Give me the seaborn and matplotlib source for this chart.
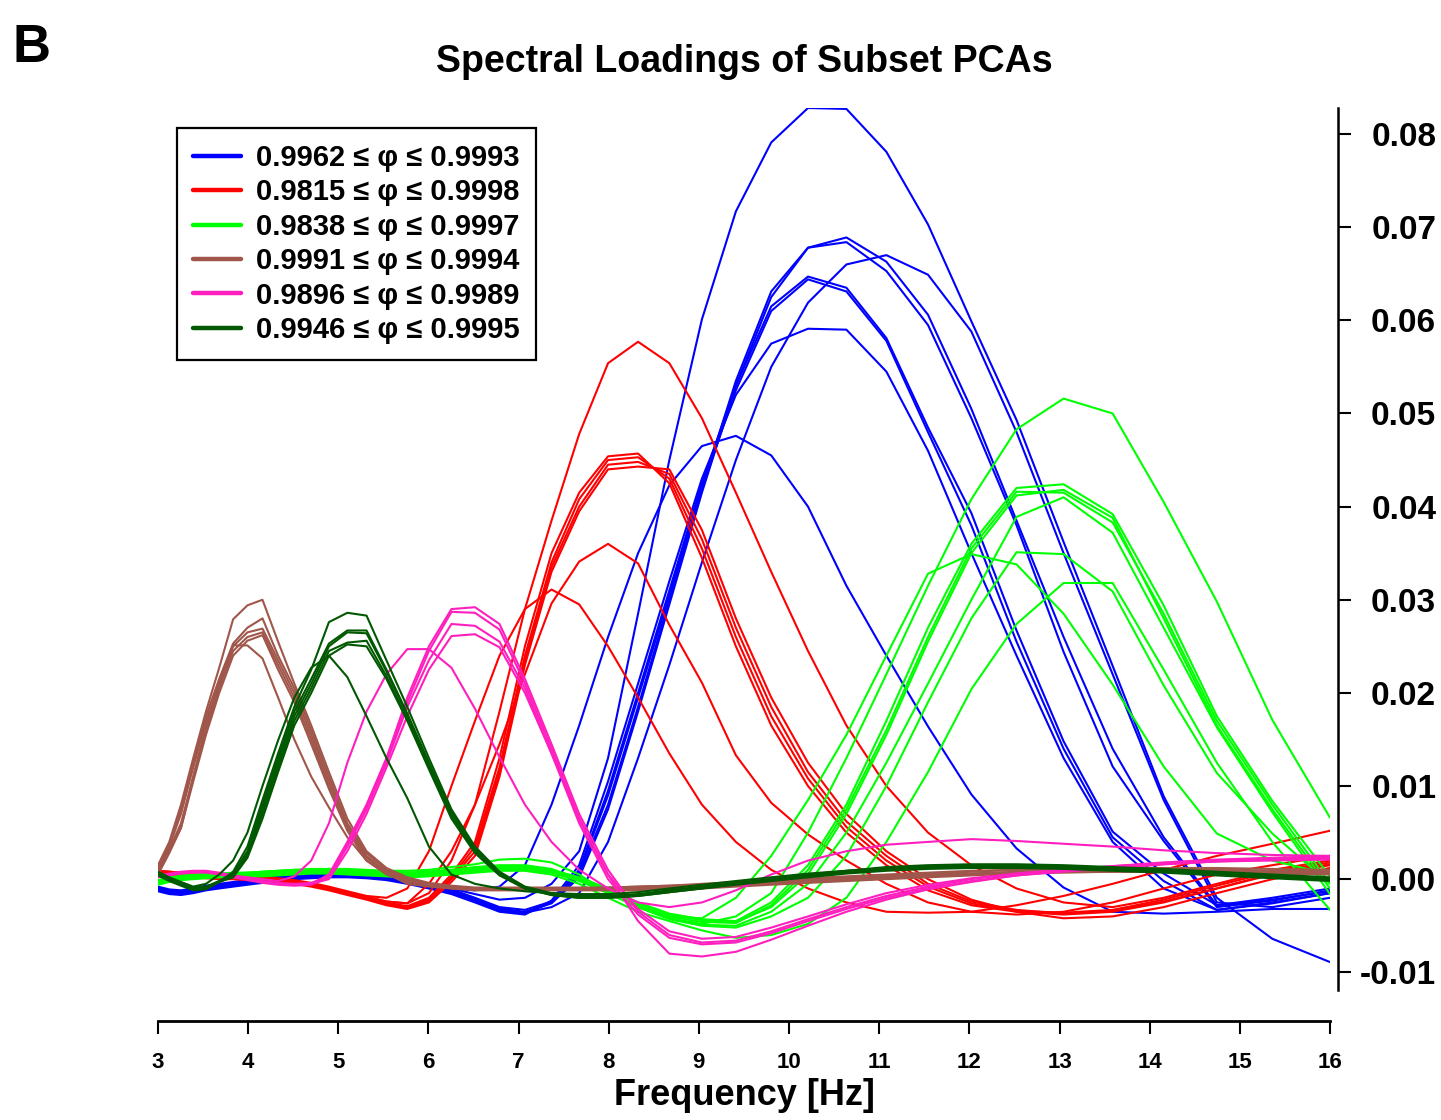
import matplotlib
matplotlib.use("Agg")
import matplotlib.pyplot as plt
from matplotlib.lines import Line2D
import numpy as np
import pandas as pd
import seaborn as sns

# Log-spaced frequency grid (Hz)
freq = [3.000, 3.125, 3.255, 3.391, 3.532, 3.679, 3.833, 3.992, 4.159, 4.332,
        4.512, 4.700, 4.896, 5.100, 5.313, 5.534, 5.765, 6.005, 6.255, 6.516,
        6.788, 7.070, 7.365, 7.672, 7.992, 8.325, 8.672, 9.033, 9.410, 9.802,
        10.210, 10.636, 11.079, 11.541, 12.022, 12.523, 13.045, 13.589, 14.155,
        14.745, 15.360, 16.000]

# Loadings in units of 1e-3, one list per subset PCA
blue_lines = [
    [-0.9, -1.2, -1.3, -1.1, -0.8, -0.6, -0.4, -0.2, 0.0, 0.2, 0.4, 0.5, 0.6, 0.6, 0.5, 0.3, -0.1, -0.5, -1.0, -1.6, -2.2, -2.0,
     -0.5, 3.0, 13.0, 28.5, 45.0, 60.1, 71.7, 79.1, 82.8, 82.7, 78.1, 70.3, 59.9, 49.3, 36.2, 22.9, 8.9, -2.0, -6.4, -8.9],
    [-1.1, -1.4, -1.5, -1.3, -1.0, -0.8, -0.6, -0.4, -0.2, 0.0, 0.2, 0.3, 0.4, 0.4, 0.3, 0.1, -0.3, -0.8, -1.4, -2.3, -3.3, -3.6,
     -2.5, 0.5, 8.0, 18.5, 30.0, 42.0, 53.5, 63.1, 67.8, 68.9, 66.3, 60.6, 50.5, 38.5, 26.0, 14.0, 4.5, -2.8, -2.0, -1.0],
    [-1.0, -1.3, -1.4, -1.2, -0.9, -0.7, -0.5, -0.3, -0.1, 0.1, 0.3, 0.4, 0.5, 0.5, 0.4, 0.2, -0.2, -0.7, -1.3, -2.2, -3.2, -3.5,
     -2.6, 0.2, 7.5, 18.0, 29.5, 41.5, 53.0, 62.5, 67.8, 68.4, 65.3, 59.5, 49.5, 38.0, 24.4, 12.1, 4.1, -3.0, -2.3, -1.2],
    [-0.8, -1.1, -1.2, -1.0, -0.7, -0.5, -0.3, -0.1, 0.1, 0.3, 0.5, 0.6, 0.7, 0.7, 0.6, 0.4, 0.0, -0.5, -1.1, -2.0, -3.0, -3.3,
     -2.4, 1.0, 9.5, 20.0, 31.0, 42.5, 53.0, 61.5, 64.7, 63.5, 58.1, 48.5, 39.3, 26.7, 14.8, 5.1, 0.6, -2.8, -2.2, -1.3],
    [-1.2, -1.5, -1.6, -1.4, -1.1, -0.9, -0.7, -0.5, -0.3, -0.1, 0.1, 0.2, 0.3, 0.3, 0.2, 0.0, -0.4, -0.9, -1.5, -2.4, -3.4, -3.7,
     -2.5, 0.8, 9.0, 19.5, 30.5, 42.0, 52.5, 61.0, 64.4, 63.1, 57.8, 48.0, 38.0, 25.5, 14.0, 4.5, -0.2, -3.3, -2.5, -1.5],
    [-0.9, -1.2, -1.3, -1.1, -0.8, -0.6, -0.4, -0.2, 0.0, 0.2, 0.4, 0.5, 0.6, 0.6, 0.5, 0.3, -0.1, -0.6, -1.2, -2.1, -3.1, -3.6,
     -3.0, -1.5, 4.0, 13.0, 23.0, 34.0, 45.0, 55.0, 61.9, 66.0, 67.0, 64.9, 58.8, 48.0, 35.0, 22.0, 8.5, -2.5, -3.0, -2.0],
    [-1.3, -1.6, -1.7, -1.5, -1.2, -1.0, -0.8, -0.6, -0.4, -0.2, 0.0, 0.1, 0.2, 0.2, 0.1, -0.1, -0.5, -1.0, -1.6, -2.5, -3.5, -3.8,
     -2.3, 1.5, 10.5, 21.0, 32.0, 43.0, 52.0, 57.5, 59.1, 59.0, 54.5, 46.0, 35.0, 24.0, 13.0, 4.0, -1.0, -3.3, -2.6, -1.5],
    [-1.0, -1.3, -1.4, -1.2, -0.9, -0.7, -0.5, -0.3, -0.1, 0.1, 0.3, 0.4, 0.5, 0.5, 0.4, 0.2, -0.2, -0.6, -1.0, -1.2, -0.8, 1.5,
     8.0, 16.5, 26.0, 35.0, 42.3, 46.5, 47.6, 45.5, 40.0, 31.5, 24.0, 16.4, 9.1, 3.3, -0.9, -3.5, -3.7, -3.5, -3.2, -3.2],
]

red_lines = [
    [0.8, 0.7, 0.6, 0.5, 0.4, 0.3, 0.3, 0.2, 0.1, 0.0, -0.2, -0.5, -0.9, -1.4, -1.9, -2.4, -2.6,
     -1.5, 2.0, 8.0, 18.0, 29.0, 38.5, 47.8, 55.4, 57.7, 55.4, 49.5, 41.5, 33.0, 24.5, 16.5, 10.0, 5.0, 1.5, -1.0, -2.5, -3.0, -2.0, -0.5, 1.0, 2.0],
    [0.9, 0.8, 0.7, 0.6, 0.5, 0.4, 0.3, 0.2, 0.1, -0.1, -0.3, -0.6, -1.0, -1.5, -2.0, -2.5, -2.9,
     -2.0, 0.5, 4.0, 13.0, 25.0, 35.0, 41.5, 45.4, 45.7, 42.5, 34.5, 25.0, 16.5, 10.0, 5.0, 1.5, -1.2, -2.8, -3.5, -3.8, -3.5, -2.5, -1.0, 0.5, 1.5],
    [0.7, 0.6, 0.5, 0.4, 0.3, 0.2, 0.2, 0.1, 0.0, -0.1, -0.3, -0.6, -1.0, -1.5, -2.0, -2.6, -3.0,
     -2.2, 0.2, 3.5, 12.0, 24.0, 34.0, 40.8, 45.0, 45.3, 43.0, 35.5, 26.0, 17.5, 10.8, 5.6, 2.0, -0.8, -2.6, -3.4, -3.6, -3.3, -2.2, -0.7, 0.8, 1.8],
    [0.6, 0.5, 0.4, 0.3, 0.2, 0.1, 0.1, 0.0, -0.1, -0.2, -0.4, -0.7, -1.1, -1.6, -2.1, -2.7, -3.1,
     -2.4, 0.0, 3.0, 11.5, 23.5, 33.5, 40.0, 44.5, 44.8, 43.5, 36.5, 27.0, 18.5, 11.5, 6.2, 2.5, -0.5, -2.4, -3.3, -3.7, -3.4, -2.4, -1.0, 0.6, 1.6],
    [0.5, 0.4, 0.3, 0.2, 0.1, 0.0, 0.0, -0.1, -0.2, -0.3, -0.5, -0.8, -1.2, -1.7, -2.2, -2.8, -3.2,
     -2.5, -0.3, 2.5, 11.0, 23.0, 33.0, 39.5, 44.0, 44.3, 44.0, 37.5, 28.0, 19.5, 12.5, 7.0, 3.0, 0.0, -2.2, -3.5, -4.2, -4.0, -3.0, -1.5, 0.0, 1.2],
    [0.8, 0.7, 0.6, 0.5, 0.4, 0.3, 0.3, 0.2, 0.1, 0.0, -0.2, -0.5, -0.9, -1.4, -1.9, -2.4, -2.6,
     -0.5, 3.0, 8.0, 14.5, 22.0, 29.6, 34.1, 36.0, 33.9, 27.3, 21.1, 13.3, 8.2, 4.8, 2.0, -0.5, -2.5, -3.5, -3.8, -3.5, -2.5, -1.0, 0.5, 1.5, 2.5],
    [0.9, 0.8, 0.7, 0.6, 0.5, 0.4, 0.4, 0.3, 0.2, 0.1, -0.1, -0.4, -0.8, -1.3, -1.8, -2.0, -1.0,
     3.0, 10.0, 17.0, 24.0, 29.0, 31.1, 29.5, 25.0, 19.5, 13.5, 8.0, 4.0, 1.0, -1.0, -2.5, -3.5, -3.6, -3.5, -2.8, -1.8, -0.5, 1.0, 2.5, 3.8, 5.2],
]

green_lines = [
    [-0.3, 0.0, 0.2, 0.3, 0.4, 0.5, 0.5, 0.6, 0.7, 0.8, 0.9, 1.0, 1.1, 1.1, 1.0, 0.9, 0.9, 1.0, 1.3, 1.6, 2.1, 2.2,
     1.8, 0.5, -1.5, -3.0, -4.2, -4.8, -4.0, -1.5, 5.0, 13.0, 22.0, 31.5, 40.8, 48.3, 51.6, 50.0, 40.5, 29.8, 17.1, 6.6],
    [-0.2, 0.1, 0.3, 0.4, 0.5, 0.5, 0.6, 0.6, 0.7, 0.8, 0.9, 0.9, 1.0, 0.9, 0.8, 0.7, 0.6, 0.7, 0.9, 1.1, 1.3, 1.3,
     1.0, 0.2, -1.0, -2.5, -3.7, -4.3, -4.5, -2.5, 1.5, 8.0, 17.0, 27.0, 36.0, 42.0, 42.4, 39.2, 29.4, 17.5, 8.4, 0.3],
    [-0.4, -0.1, 0.1, 0.2, 0.3, 0.4, 0.4, 0.5, 0.5, 0.6, 0.7, 0.8, 0.8, 0.7, 0.6, 0.5, 0.4, 0.5, 0.7, 0.9, 1.1, 1.1,
     0.8, 0.0, -1.3, -2.8, -4.0, -4.6, -4.7, -2.8, 1.0, 7.5, 16.0, 26.0, 35.5, 41.6, 41.5, 38.3, 28.5, 17.0, 8.0, -0.5],
    [-0.1, 0.2, 0.4, 0.5, 0.6, 0.6, 0.7, 0.7, 0.8, 0.9, 1.0, 1.0, 1.1, 1.0, 0.9, 0.8, 0.7, 0.8, 1.0, 1.2, 1.4, 1.4,
     1.0, 0.1, -1.2, -2.6, -3.8, -4.4, -4.6, -3.0, 0.5, 7.0, 15.5, 25.5, 35.0, 41.2, 41.8, 38.8, 28.0, 16.5, 7.5, -1.0],
    [-0.3, 0.0, 0.2, 0.3, 0.4, 0.4, 0.5, 0.5, 0.6, 0.7, 0.8, 0.8, 0.9, 0.8, 0.7, 0.6, 0.5, 0.6, 0.8, 1.0, 1.2, 1.2,
     0.9, 0.0, -1.4, -3.0, -4.2, -4.9, -5.0, -3.5, -0.5, 5.0, 12.5, 21.0, 30.0, 38.9, 41.0, 37.2, 27.0, 16.3, 7.2, -1.6],
    [-0.5, -0.2, 0.0, 0.1, 0.2, 0.3, 0.3, 0.4, 0.4, 0.5, 0.6, 0.7, 0.7, 0.6, 0.5, 0.4, 0.3, 0.4, 0.6, 0.8, 1.0, 1.0,
     0.7, -0.2, -1.5, -3.0, -4.3, -5.0, -5.2, -4.0, -2.0, 2.5, 10.0, 19.0, 28.0, 35.1, 34.9, 30.9, 20.8, 11.4, 4.9, -0.5],
    [-0.2, 0.1, 0.3, 0.4, 0.5, 0.6, 0.6, 0.7, 0.8, 0.9, 1.0, 1.1, 1.1, 1.0, 0.9, 0.8, 0.7, 0.8, 1.0, 1.3, 1.5, 1.5,
     1.1, 0.0, -1.5, -3.0, -4.0, -4.2, -2.0, 2.5, 8.5, 15.5, 24.0, 32.8, 34.9, 33.8, 28.5, 20.9, 12.1, 4.9, 2.0, 0.5],
    [-0.6, -0.3, -0.1, 0.0, 0.1, 0.2, 0.2, 0.3, 0.3, 0.4, 0.5, 0.6, 0.6, 0.5, 0.4, 0.3, 0.2, 0.3, 0.5, 0.7, 0.9, 0.9,
     0.5, -0.5, -2.0, -3.5, -4.5, -5.5, -6.3, -6.0, -4.8, -2.0, 4.0, 11.5, 20.4, 27.4, 31.8, 31.8, 22.5, 12.5, 4.0, -3.3],
]

brown_lines = [
    [1.5, 4.0, 8.0, 13.0, 18.0, 22.7, 27.9, 29.4, 30.0, 25.5, 21.0, 16.5, 11.5, 6.5, 3.0, 1.2, 0.2,
     -0.4, -0.7, -0.9, -0.9, -0.9, -0.9, -0.9, -0.9, -0.8, -0.7, -0.5, -0.3, -0.1, 0.1, 0.3, 0.5, 0.7, 0.9, 1.0, 1.1, 1.1, 1.1, 1.0, 0.9, 0.8],
    [1.2, 3.8, 7.5, 12.5, 17.5, 21.5, 25.3, 27.0, 28.0, 24.0, 20.5, 16.0, 11.0, 6.0, 2.8, 1.0, 0.0,
     -0.5, -0.8, -1.0, -1.0, -1.0, -1.0, -1.0, -1.0, -1.0, -0.9, -0.8, -0.6, -0.4, -0.2, 0.0, 0.2, 0.4, 0.6, 0.8, 0.9, 1.0, 1.0, 1.0, 0.9, 0.8],
    [1.0, 3.5, 7.0, 12.0, 17.0, 21.0, 25.0, 26.5, 26.9, 23.5, 20.0, 15.5, 10.5, 5.8, 2.5, 0.8, -0.1,
     -0.6, -0.9, -1.1, -1.1, -1.1, -1.1, -1.1, -1.1, -1.1, -1.0, -0.9, -0.7, -0.5, -0.3, -0.1, 0.1, 0.3, 0.5, 0.7, 0.8, 0.9, 0.9, 0.9, 0.8, 0.7],
    [0.8, 3.2, 6.0, 11.0, 16.0, 20.5, 24.5, 26.0, 26.5, 23.0, 19.5, 15.0, 10.0, 5.5, 2.3, 0.7, -0.2,
     -0.7, -1.0, -1.2, -1.2, -1.2, -1.2, -1.2, -1.2, -1.2, -1.1, -1.0, -0.8, -0.6, -0.4, -0.2, 0.0, 0.2, 0.4, 0.6, 0.7, 0.8, 0.8, 0.8, 0.7, 0.6],
    [0.5, 2.8, 5.5, 10.5, 15.5, 20.0, 24.0, 25.6, 26.2, 22.5, 19.0, 14.5, 9.7, 5.2, 2.0, 0.5, -0.3,
     -0.6, -0.9, -1.0, -1.0, -1.0, -1.0, -1.0, -0.9, -0.8, -0.7, -0.6, -0.4, -0.2, 0.0, 0.2, 0.4, 0.6, 0.8, 1.0, 1.1, 1.2, 1.2, 1.2, 1.1, 1.0],
    [0.6, 3.0, 5.5, 11.0, 16.5, 21.0, 25.1, 25.1, 23.7, 19.5, 15.0, 11.0, 7.7, 4.5, 2.0, 0.6, -0.5,
     -0.8, -1.0, -1.1, -1.1, -1.1, -1.1, -1.1, -1.0, -0.9, -0.8, -0.7, -0.5, -0.3, -0.1, 0.1, 0.3, 0.5, 0.6, 0.7, 0.8, 0.8, 0.8, 0.7, 0.6, 0.5],
]

pink_lines = [
    [0.3, 0.5, 0.7, 0.8, 0.8, 0.6, 0.3, 0.0, -0.3, -0.5, -0.6, -0.5,
     0.5, 4.0, 8.0, 13.0, 19.5, 25.0, 29.0, 29.2, 27.4, 21.5, 14.5, 7.0, 1.0, -3.5, -6.0, -6.8, -6.6, -5.6, -4.3, -3.0, -1.8, -0.8, 0.0, 0.6, 1.0, 1.4, 1.7, 2.0, 2.2, 2.3],
    [0.4, 0.6, 0.8, 0.9, 0.9, 0.7, 0.4, 0.1, -0.2, -0.4, -0.5, -0.4,
     0.3, 3.8, 7.8, 12.8, 19.0, 24.5, 28.7, 28.6, 26.8, 21.0, 14.0, 6.5, 0.5, -4.5, -8.0, -8.3, -7.8, -6.5, -5.0, -3.5, -2.2, -1.1, -0.3, 0.4, 0.9, 1.2, 1.6, 1.9, 2.1, 2.2],
    [0.2, 0.4, 0.6, 0.7, 0.7, 0.5, 0.2, -0.1, -0.4, -0.6, -0.7, -0.6,
     0.2, 3.5, 7.5, 12.5, 18.5, 23.5, 27.4, 27.2, 25.5, 20.5, 13.5, 6.0, 0.0, -3.8, -6.3, -7.0, -6.8, -5.8, -4.5, -3.2, -2.0, -1.0, -0.2, 0.4, 0.8, 1.2, 1.6, 1.9, 2.0, 2.1],
    [0.3, 0.5, 0.7, 0.8, 0.8, 0.6, 0.3, 0.0, -0.3, -0.5, -0.6, -0.5,
     0.0, 3.0, 7.0, 12.0, 17.5, 22.5, 26.1, 26.3, 24.9, 20.0, 13.5, 6.5, 0.5, -3.2, -5.6, -6.4, -6.2, -5.2, -4.0, -2.7, -1.5, -0.6, 0.1, 0.6, 1.0, 1.4, 1.8, 2.1, 2.3, 2.5],
    [0.3, 0.5, 0.7, 0.8, 0.8, 0.6, 0.4, 0.2, 0.0, -0.2,
     0.3, 2.0, 6.0, 12.5, 18.0, 22.0, 24.7, 24.7, 22.7, 18.3, 13.1, 8.0, 4.0, 1.0, -1.0, -2.5, -3.0, -2.5, -1.2, 0.5, 2.0, 3.0, 3.7, 4.0, 4.3, 4.1, 3.8, 3.5, 3.1, 2.8, 2.6, 2.5],
]

darkgreen_lines = [
    [0.6, 0.0, -0.5, -1.0, -0.9,
     -0.3, 0.8, 3.5, 8.5, 13.5, 18.5, 22.5, 27.6, 28.6, 28.3, 23.5, 18.5, 13.0, 7.5, 3.5, 0.8, -0.8, -1.5, -1.8, -1.8, -1.6, -1.2, -0.8, -0.4, 0.0, 0.4, 0.8, 1.1, 1.3, 1.4, 1.4, 1.3, 1.1, 0.9, 0.6, 0.3, 0.0],
    [0.7, 0.1, -0.4, -0.9, -0.8,
     -0.2, 0.6, 3.0, 8.0, 13.0, 18.0, 21.5, 25.3, 26.7, 26.7, 22.5, 17.8, 12.5, 7.2, 3.3, 0.7, -0.9, -1.6, -1.9, -1.9, -1.7, -1.3, -0.9, -0.5, -0.1, 0.3, 0.7, 1.0, 1.2, 1.3, 1.3, 1.2, 1.0, 0.8, 0.5, 0.2, -0.1],
    [0.5, -0.1, -0.6, -1.1, -1.0,
     -0.2, 0.5, 2.8, 7.5, 12.5, 17.5, 21.0, 25.0, 26.5, 26.4, 22.3, 17.6, 12.3, 7.0, 3.2, 0.6, -0.9, -1.6, -1.9, -1.9, -1.7, -1.3, -0.9, -0.5, 0.0, 0.5, 0.9, 1.3, 1.5, 1.6, 1.6, 1.5, 1.3, 1.1, 0.8, 0.5, 0.2],
    [0.6, 0.0, -0.5, -1.0, -0.9,
     -0.3, 0.3, 2.5, 7.0, 12.0, 17.0, 20.5, 24.5, 25.4, 25.6, 21.8, 17.2, 12.0, 6.8, 3.0, 0.5, -1.0, -1.7, -2.0, -2.0, -1.8, -1.4, -1.0, -0.6, -0.2, 0.2, 0.6, 0.9, 1.1, 1.2, 1.2, 1.1, 0.9, 0.7, 0.4, 0.1, -0.2],
    [0.4, -0.2, -0.7, -1.2, -1.1,
     -0.3, 0.2, 2.3, 6.5, 11.5, 16.5, 20.0, 24.0, 25.2, 25.0, 21.5, 17.0, 11.8, 6.5, 2.8, 0.4, -1.0, -1.7, -2.0, -2.0, -1.8, -1.4, -1.0, -0.5, -0.1, 0.4, 0.8, 1.2, 1.4, 1.5, 1.5, 1.4, 1.2, 0.9, 0.6, 0.3, 0.0],
    [0.8, 0.2, -0.3, -0.8, -0.5,
     0.5, 2.0, 5.0, 10.0, 14.9, 19.5, 22.7, 24.0, 21.7, 17.5, 13.0, 8.7, 3.5, 0.5, -0.5, -1.0, -1.3, -1.5, -1.6, -1.6, -1.4, -1.0, -0.6, -0.2, 0.2, 0.6, 0.9, 1.2, 1.4, 1.5, 1.5, 1.4, 1.2, 1.0, 0.7, 0.4, 0.1],
]

labels = ["0.9962 \u2264 \u03c6 \u2264 0.9993",
          "0.9815 \u2264 \u03c6 \u2264 0.9998",
          "0.9838 \u2264 \u03c6 \u2264 0.9997",
          "0.9991 \u2264 \u03c6 \u2264 0.9994",
          "0.9896 \u2264 \u03c6 \u2264 0.9989",
          "0.9946 \u2264 \u03c6 \u2264 0.9995"]
colors = ["#0000FF", "#FF0000", "#00FF00", "#A0564A", "#FF1EBE", "#005800"]
y_ticks = [-0.01, 0.00, 0.01, 0.02, 0.03, 0.04, 0.05, 0.06, 0.07, 0.08]
y_ticklabels = ["-0.01", "0.00", "0.01", "0.02", "0.03", "0.04", "0.05", "0.06", "0.07", "0.08"]
x_ticks = list(range(3, 17))

# Long-form table: one row per (line, frequency)
rows = []
for label, group in zip(labels, [blue_lines, red_lines, green_lines,
                                 brown_lines, pink_lines, darkgreen_lines]):
    for i, series in enumerate(group):
        if len(series) != len(freq):
            raise ValueError(f"{label} line {i}: {len(series)} values")
        for f, v in zip(freq, series):
            rows.append({"freq": f, "loading": v * 1e-3,
                         "group": label, "line": f"{label}#{i}"})
df = pd.DataFrame(rows)

sns.set_style("white")
plt.rcParams["font.family"] = ["Liberation Sans", "DejaVu Sans"]
plt.rcParams["font.weight"] = "bold"
for key in ("text.color", "axes.labelcolor", "xtick.color", "ytick.color",
            "axes.edgecolor"):
    plt.rcParams[key] = "black"

fig = plt.figure(figsize=(14.41, 11.2), dpi=100)
ax = fig.add_axes([158 / 1441, 130 / 1120, 1172 / 1441, 882 / 1120])

sns.lineplot(data=df, x="freq", y="loading", hue="group", hue_order=labels,
             units="line", estimator=None, palette=colors, linewidth=1.5,
             sort=False, legend=False, ax=ax)

ax.set_xlim(3, 16)
ax.set_ylim(-0.0119, 0.0828)

# Axis frame: detached bottom axis, right-hand value axis
for side in ("left", "top"):
    ax.spines[side].set_visible(False)
ax.spines["right"].set_position(("outward", 6))
ax.spines["right"].set_linewidth(1.8)
ax.spines["bottom"].set_position(("outward", 22))
ax.spines["bottom"].set_linewidth(2.0)

ax.yaxis.tick_right()
ax.set_yticks(y_ticks)
ax.set_yticklabels(y_ticklabels)
ax.tick_params(axis="y", which="both", right=True, left=False, direction="out",
               length=9.5, width=1.5, pad=61)
for lbl in ax.get_yticklabels():
    lbl.set_fontfamily(["Liberation Sans", "DejaVu Sans"])
    lbl.set_fontweight("bold")
    lbl.set_fontsize(24)
    lbl.set_horizontalalignment("right")

ax.set_xticks(x_ticks)
ax.set_xticklabels([str(t) for t in x_ticks])
ax.tick_params(axis="x", which="both", bottom=True, direction="out",
               length=9.5, width=1.5, pad=13)
for lbl in ax.get_xticklabels():
    lbl.set_fontweight("bold")
    lbl.set_fontsize(16)

ax.set_xlabel("Frequency [Hz]", fontsize=26, fontweight="bold", labelpad=4)
ax.set_ylabel("")
ax.set_title("Spectral Loadings of Subset PCAs", fontsize=27,
             fontweight="bold", pad=26)

handles = [Line2D([0], [0], color=c, lw=3.2) for c in colors]
leg = ax.legend(handles, labels, loc="upper left",
                bbox_to_anchor=((177 - 158) / 1172, (990 - 128) / 882),
                borderaxespad=0, frameon=True, fancybox=False, framealpha=1,
                edgecolor="black", prop={"size": 21, "weight": "bold"},
                handlelength=1.65, handletextpad=0.52, labelspacing=0.22,
                borderpad=0.55)
leg.get_frame().set_linewidth(1.6)

fig.text(12 / 1441, 1 - 62 / 1120, "B", fontsize=38, fontweight="bold",
         va="baseline", ha="left")

fig.savefig("out.png", dpi=100)
